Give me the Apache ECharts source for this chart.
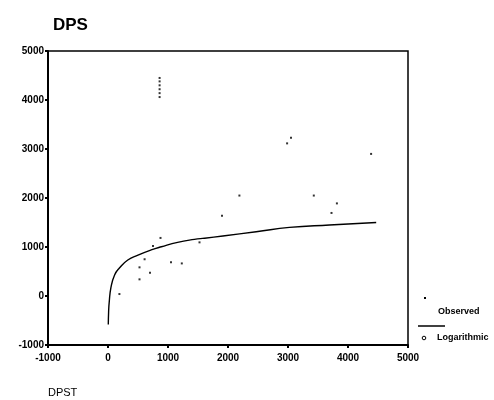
<!DOCTYPE html>
<html>
<head>
<meta charset="utf-8">
<script src="https://cdn.jsdelivr.net/npm/echarts@6/dist/echarts.min.js"></script>
<style>html,body{margin:0;padding:0;background:#fff;}#c{width:494px;height:400px;}</style>
</head>
<body>
<div id="c"></div>
<script>
// Observed points (DPST, DPS)
const obsX = [875, 750, 610, 525, 700, 525, 190, 1050, 1230, 1525, 1900, 2190, 2985, 3050, 4385, 3430, 3815, 3725, 860, 860, 860, 860, 860, 860];
const obsY = [1185, 1020, 750, 585, 475, 340, 40, 690, 665, 1095, 1640, 2050, 3115, 3230, 2900, 2050, 1890, 1695, 4060, 4140, 4220, 4300, 4380, 4450];
// Logarithmic fit
const fitX = [5, 10, 20, 50, 110, 190, 330, 500, 720, 890, 1160, 1440, 1610, 1915, 2470, 3025, 3690, 4470];
const fitY = [-580, -330, -130, 180, 430, 570, 735, 835, 940, 1005, 1095, 1155, 1180, 1225, 1310, 1400, 1450, 1500];
const xTicks = [-1000, 0, 1000, 2000, 3000, 4000, 5000];
const yTicks = [-1000, 0, 1000, 2000, 3000, 4000, 5000];

const chart = echarts.init(document.getElementById('c'), null, {renderer: 'canvas'});
const FONT = '"Liberation Sans", Arial, sans-serif';
const axisCommon = {
  axisLine: {show: true, onZero: false, lineStyle: {color: '#000', width: 2}},
  axisTick: {show: true, length: 3, lineStyle: {color: '#000', width: 2}},
  splitLine: {show: false},
  axisLabel: {color: '#000', fontFamily: FONT, fontWeight: 'bold', fontSize: 10, formatter: v => String(v)}
};
chart.setOption({
  backgroundColor: '#fff',
  animation: false,
  title: {text: 'DPS', left: 48, top: 12, textStyle: {fontFamily: FONT, fontWeight: 'bold', fontSize: 17, color: '#000'}},
  grid: {left: 48, right: 86, top: 51, bottom: 55, show: true, borderColor: '#000', borderWidth: 1.5, backgroundColor: 'transparent'},
  xAxis: Object.assign({type: 'value', min: xTicks[0], max: xTicks[xTicks.length - 1], interval: 1000}, axisCommon, {axisLabel: Object.assign({}, axisCommon.axisLabel, {margin: 8})}),
  yAxis: Object.assign({type: 'value', min: yTicks[0], max: yTicks[yTicks.length - 1], interval: 1000}, axisCommon, {axisLabel: Object.assign({}, axisCommon.axisLabel, {margin: 4})}),
  series: [
    {name: 'Logarithmic', type: 'line', smooth: true, showSymbol: false, lineStyle: {color: '#000', width: 1.4}, data: fitX.map((x, i) => [x, fitY[i]])},
    {name: 'Observed', type: 'scatter', symbol: 'rect', symbolSize: 2, itemStyle: {color: '#000'}, data: obsX.map((x, i) => [x, obsY[i]])}
  ],
  graphic: [
    {type: 'text', left: 48, top: 387, style: {text: 'DPST', font: '11px ' + FONT, fill: '#000'}},
    {type: 'rect', shape: {x: 424, y: 297, width: 2, height: 2}, style: {fill: '#000'}},
    {type: 'text', left: 438, top: 307, style: {text: 'Observed', font: 'bold 9px ' + FONT, fill: '#000'}},
    {type: 'line', shape: {x1: 418, y1: 326, x2: 445, y2: 326}, style: {stroke: '#000', lineWidth: 1.5}},
    {type: 'circle', shape: {cx: 424, cy: 338, r: 1.8}, style: {fill: 'none', stroke: '#000', lineWidth: 1}},
    {type: 'text', left: 437, top: 333, style: {text: 'Logarithmic', font: 'bold 9px ' + FONT, fill: '#000'}}
  ]
});
</script>
</body>
</html>
